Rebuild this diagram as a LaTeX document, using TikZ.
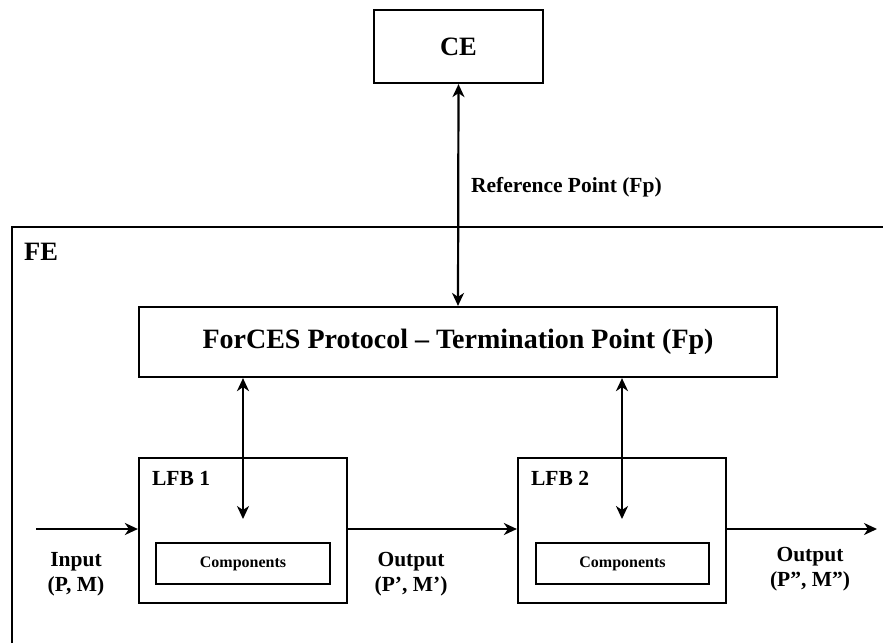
\documentclass[tikz,border=0pt]{standalone}
\usepackage{fontspec}
\setmainfont{Liberation Serif}
\usetikzlibrary{arrows.meta}
\begin{document}
\begin{tikzpicture}[x=1pt,y=-1pt,
  line width=2.2pt,
  head/.tip={Stealth[length=13pt,width=12pt,inset=4pt]},
  tip/.style={-head},
  biarrow/.style={head-head},
  box/.style={draw, line width=2.2pt, inner sep=0pt, font=\bfseries},
  bigtxt/.style={font=\fontsize{26.5}{30}\selectfont\bfseries},
  midtxt/.style={font=\fontsize{21.5}{25}\selectfont\bfseries, align=center},
  smalltxt/.style={font=\fontsize{16}{18}\selectfont\bfseries}
]
\useasboundingbox (0,0) rectangle (883,643);

% FE enclosure: only its left and top edges lie inside the frame
\coordinate (feBL) at (12,643);
\coordinate (feTL) at (12,227);
\coordinate (feTR) at (883,227);
\draw (feBL) -- (feTL) -- (feTR);
\node[bigtxt, anchor=base west, inner sep=0pt] (fe) at (23,260) {FE};

% Control element
\node[box, bigtxt, minimum width=169pt, minimum height=73pt] (ce) at (458.5,46.5) {CE};

% Protocol termination point
\node[box, font=\fontsize{28}{32}\selectfont\bfseries, minimum width=638pt, minimum height=70pt] (fp) at (458,342)
  {ForCES Protocol -- Termination Point (Fp)};

\draw[biarrow] (ce.south) -- (fp.north);
\node[midtxt, anchor=base west, inner sep=0pt] (refpt) at (470,192) {Reference Point (Fp)};

% Logical functional blocks
\node[box, minimum width=208pt, minimum height=145pt] (lfb1) at (243,530.5) {};
\node[box, minimum width=208pt, minimum height=145pt] (lfb2) at (622,530.5) {};
\node[midtxt, anchor=base west, inner sep=0pt] (lfb1lbl) at (151,485) {LFB 1};
\node[midtxt, anchor=base west, inner sep=0pt] (lfb2lbl) at (530,485) {LFB 2};

\node[box, smalltxt, minimum width=174pt, minimum height=41pt] (comp1) at (243,563.5) {Components};
\node[box, smalltxt, minimum width=173pt, minimum height=41pt] (comp2) at (622.5,563.5) {Components};

% Control arrows from the termination point into each block
\coordinate (t1) at (243,519);
\coordinate (t2) at (622,519);
\draw[biarrow] (fp.south -| t1) -- (t1);
\draw[biarrow] (fp.south -| t2) -- (t2);

% Packet flow
\coordinate (in) at (36,529);
\coordinate (out) at (877,529);
\draw[tip] (in) -- (in -| lfb1.west);
\draw[tip] (lfb1.east |- in) -- (lfb2.west |- in);
\draw[tip] (lfb2.east |- in) -- (out);

\node[midtxt, inner sep=0pt] (inlbl) at (76,574) {Input\\(P, M)};
\node[midtxt, inner sep=0pt] (out1lbl) at (411,574) {Output\\(P’, M’)};
\node[midtxt, inner sep=0pt] (out2lbl) at (810,569) {Output\\(P”, M”)};
\end{tikzpicture}
\end{document}
